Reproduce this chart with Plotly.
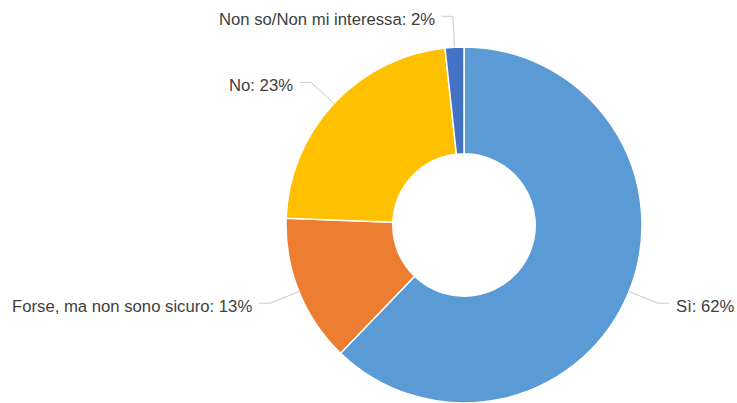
import math
import plotly.graph_objects as go

labels = ["Sì", "Forse, ma non sono sicuro", "No", "Non so/Non mi interessa"]
values = [62.2, 13.4, 22.7, 1.7]
shown_pct = ["62%", "13%", "23%", "2%"]
colors = ["#5B9BD5", "#ED7D31", "#FFC000", "#4472C4"]

W, H = 737, 403
cx, cy, R = 464, 225, 178
hole = 0.40

fig = go.Figure(go.Pie(
    labels=labels, values=values, sort=False, direction="clockwise", rotation=0,
    hole=hole, textinfo="none", hoverinfo="label+percent",
    marker=dict(colors=colors, line=dict(color="white", width=1.5)),
    domain=dict(x=[(cx - R) / W, (cx + R) / W], y=[1 - (cy + R) / H, 1 - (cy - R) / H]),
    showlegend=False,
))

def px(x):
    return x / W

def py(y):
    return 1 - y / H

total = sum(values)
acc = 0.0
shapes, annotations = [], []
for lab, v, pct in zip(labels, values, shown_pct):
    mid = (acc + v / 2) / total * 2 * math.pi
    acc += v
    sx, sy = math.sin(mid), -math.cos(mid)
    x0, y0 = cx + R * sx, cy + R * sy
    x1, y1 = cx + (R + 31) * sx, cy + (R + 31) * sy
    side = 1 if sx > 0 else -1
    x2 = x1 + side * 11
    shapes.append(dict(type="path", xref="paper", yref="paper",
                       path=f"M {px(x0)},{py(y0)} L {px(x1)},{py(y1)} L {px(x2)},{py(y1)}",
                       line=dict(color="#C8C8C8", width=1)))
    annotations.append(dict(x=px(x2 + side * 5), y=py(y1 + 3), xref="paper", yref="paper",
                            text=f"{lab}: {pct}", showarrow=False,
                            xanchor="left" if side > 0 else "right", yanchor="middle",
                            font=dict(family="Liberation Sans, Arial, sans-serif", size=16.7, color="#404040")))

fig.update_layout(width=W, height=H, margin=dict(l=0, r=0, t=0, b=0),
                  paper_bgcolor="white", plot_bgcolor="white",
                  shapes=shapes, annotations=annotations)
fig.write_html("out.html", config={"displayModeBar": False},
               post_script="document.body.style.margin='0';document.body.style.overflow='hidden';")
